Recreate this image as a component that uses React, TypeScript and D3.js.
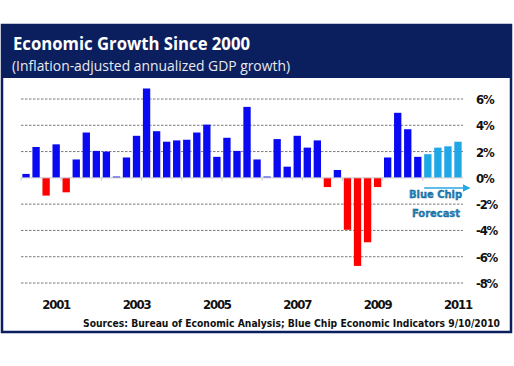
import React, { useRef, useEffect } from "react";
import * as d3 from "d3";

// quarterly data, 2000 Q3 .. 2011 Q2
const years = ["2000", "2001", "2002", "2003", "2004", "2005", "2006", "2007", "2008", "2009", "2010", "2011"];
const actualGrowth = [
  0.3, 2.35,
  -1.35, 2.55, -1.1, 1.4,
  3.45, 2.05, 2.0, 0.1,
  1.55, 3.2, 6.8, 3.55,
  2.75, 2.85, 2.9, 3.45,
  4.05, 1.6, 3.05, 2.05,
  5.4, 1.4, 0.1, 2.95,
  0.85, 3.2, 2.3, 2.85,
  -0.7, 0.6, -3.95, -6.7,
  -4.9, -0.7, 1.55, 4.95,
  3.7, 1.6,
];
const forecastGrowth = [1.8, 2.3, 2.4, 2.75];
const yTicks = [6, 4, 2, 0, -2, -4, -6, -8];
const yearLabels = ["2001", "2003", "2005", "2007", "2009", "2011"];

const W = 514;
const H = 366;

const App = () => {
  const ref = useRef<SVGSVGElement>(null);

  useEffect(() => {
    const quarters = years.flatMap((y) => ["Q1", "Q2", "Q3", "Q4"].map((q) => `${y} ${q}`)).slice(2, 46);
    const data = [
      ...actualGrowth.map((v, i) => ({ q: quarters[i], v, forecast: false })),
      ...forecastGrowth.map((v, i) => ({ q: quarters[actualGrowth.length + i], v, forecast: true })),
    ];

    const svg = d3.select(ref.current);
    svg.selectAll("*").remove();

    // frame
    svg.append("rect")
      .attr("x", 2).attr("y", 25).attr("width", 509).attr("height", 307)
      .attr("fill", "#fff").attr("stroke", "#0b1f5e").attr("stroke-width", 2.5);
    svg.append("rect")
      .attr("x", 1).attr("y", 24).attr("width", 511).attr("height", 54)
      .attr("fill", "#0b1f5e");

    svg.append("text")
      .attr("x", 13).attr("y", 50)
      .attr("fill", "#fff")
      .attr("font-family", "'Open Sans', 'Noto Sans', sans-serif")
      .attr("font-weight", "bold").attr("font-size", 18)
      .attr("textLength", 237).attr("lengthAdjust", "spacingAndGlyphs")
      .text("Economic Growth Since 2000");
    svg.append("text")
      .attr("x", 12).attr("y", 71)
      .attr("fill", "#e8eaf0")
      .attr("font-family", "'Open Sans', 'Noto Sans', sans-serif")
      .attr("font-size", 14)
      .attr("textLength", 278).attr("lengthAdjust", "spacingAndGlyphs")
      .text("(Inflation-adjusted annualized GDP growth)");

    const x = d3.scaleBand<string>()
      .domain(data.map((d) => d.q))
      .range([21, 463])
      .paddingInner(0.27)
      .paddingOuter(0.135);
    const y = d3.scaleLinear().domain([-8, 6]).range([283, 99]);

    // gridlines
    svg.append("g")
      .selectAll("line")
      .data(yTicks.filter((t) => t !== 0))
      .join("line")
      .attr("x1", 21).attr("x2", 463)
      .attr("y1", (d) => y(d)).attr("y2", (d) => y(d))
      .attr("stroke", "#7a7a7a").attr("stroke-width", 1)
      .attr("stroke-dasharray", "2.5,1.5");

    // bars
    svg.append("g")
      .selectAll("rect")
      .data(data)
      .join("rect")
      .attr("x", (d) => x(d.q)!)
      .attr("width", x.bandwidth())
      .attr("y", (d) => y(Math.max(0, d.v)))
      .attr("height", (d) => Math.abs(y(d.v) - y(0)))
      .attr("fill", (d) => (d.forecast ? "#1fa7e6" : d.v < 0 ? "#ff0000" : "#0a0af2"));

    // zero axis with year-boundary ticks
    svg.append("line")
      .attr("x1", 21).attr("x2", 463)
      .attr("y1", y(0)).attr("y2", y(0))
      .attr("stroke", "#c8c8d0").attr("stroke-width", 1);
    svg.append("g")
      .selectAll("line")
      .data(data.filter((_, i) => i % 4 === 0).map((d) => d.q))
      .join("line")
      .attr("x1", (d) => x(d)! - x.step() * 0.135)
      .attr("x2", (d) => x(d)! - x.step() * 0.135)
      .attr("y1", y(0)).attr("y2", y(0) + 3)
      .attr("stroke", "#c8c8d0");

    // y labels on the right
    svg.append("g")
      .selectAll("text")
      .data(yTicks)
      .join("text")
      .attr("x", 476)
      .attr("y", (d) => y(d) + 5)
      .attr("font-family", "'DejaVu Sans Condensed', 'DejaVu Sans', sans-serif")
      .attr("font-weight", "bold").attr("font-size", 13)
      .attr("letter-spacing", -1.2)
      .attr("fill", "#111")
      .text((d) => (d < 0 ? `-${-d}%` : `${d}%`));

    // year labels under Q2 of each odd year
    svg.append("g")
      .selectAll("text")
      .data(yearLabels)
      .join("text")
      .attr("x", (d) => x(`${d} Q2`)! + x.bandwidth() / 2)
      .attr("y", 309)
      .attr("text-anchor", "middle")
      .attr("font-family", "'DejaVu Sans Condensed', 'DejaVu Sans', sans-serif")
      .attr("font-weight", "bold").attr("font-size", 13)
      .attr("letter-spacing", -1.2)
      .attr("fill", "#111")
      .text((d) => d);

    // forecast annotation
    const fx = x(data[actualGrowth.length].q)!;
    svg.append("defs").append("marker")
      .attr("id", "arrow")
      .attr("viewBox", "0 0 10 10")
      .attr("refX", 8).attr("refY", 5)
      .attr("markerWidth", 5).attr("markerHeight", 5)
      .attr("orient", "auto")
      .append("path").attr("d", "M0,0L10,5L0,10z").attr("fill", "#29a9e1");
    svg.append("line")
      .attr("x1", fx).attr("x2", 469)
      .attr("y1", 188).attr("y2", 188)
      .attr("stroke", "#29a9e1").attr("stroke-width", 1.5)
      .attr("marker-end", "url(#arrow)");
    const note = svg.append("g")
      .attr("font-family", "'DejaVu Sans Condensed', 'DejaVu Sans', sans-serif")
      .attr("font-weight", "bold").attr("font-size", 10)
      .attr("fill", "#1c88c4").attr("stroke", "#0d4a78").attr("stroke-width", 0.3)
      .attr("text-anchor", "end");
    note.append("text").attr("x", 462).attr("y", 198)
      .attr("textLength", 53).attr("lengthAdjust", "spacingAndGlyphs").text("Blue Chip");
    note.append("text").attr("x", 460).attr("y", 217)
      .attr("textLength", 48).attr("lengthAdjust", "spacingAndGlyphs").text("Forecast");

    // source
    svg.append("text")
      .attr("x", 83).attr("y", 327)
      .attr("font-family", "'DejaVu Sans Condensed', 'DejaVu Sans', sans-serif")
      .attr("font-weight", "bold").attr("font-size", 10.5)
      .attr("fill", "#111")
      .attr("textLength", 417).attr("lengthAdjust", "spacingAndGlyphs")
      .text("Sources: Bureau of Economic Analysis; Blue Chip Economic Indicators 9/10/2010");
  }, []);

  return (
    <svg
      ref={ref}
      width={W}
      height={H}
      style={{ position: "absolute", left: 0, top: 0, background: "#fff" }}
    />
  );
};

export default App;
